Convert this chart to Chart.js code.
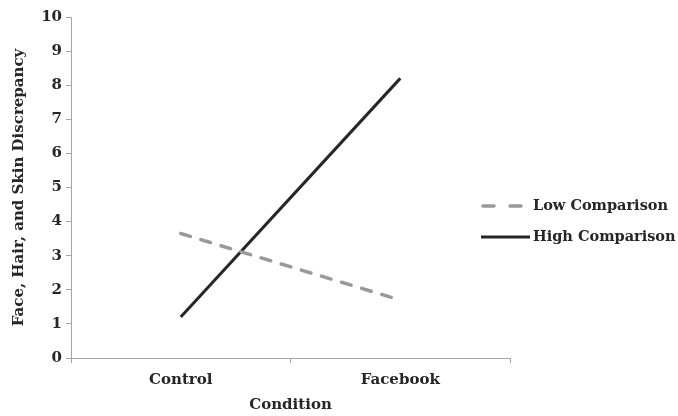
<!DOCTYPE html>
<html>
<head>
<meta charset="utf-8">
<script src="https://cdn.jsdelivr.net/npm/chart.js@4/dist/chart.umd.min.js"></script>
<style>
    html, body { margin: 0; padding: 0; background: #fff; }
    #wrap { width: 678px; height: 416px; }
</style>
</head>
<body>
<div id="wrap"><canvas id="chart"></canvas></div>
<script>
    // Data
    var conditions = ['Control', 'Facebook'];
    var lowComparison = [3.65, 1.7];
    var highComparison = [1.2, 8.2];
    var yTicks = [0, 1, 2, 3, 4, 5, 6, 7, 8, 9, 10];

    var serif = "'DejaVu Serif', serif";
    var axisGray = '#a6a6a6';

    // Legend drawn to the right, overlapping the plot's x-range like the original
    var sideLegend = {
        id: 'sideLegend',
        afterDraw: function (chart) {
            var ctx = chart.ctx;
            var x0 = 481, lineLen = 49, rowY = [206, 237];
            chart.data.datasets.forEach(function (ds, i) {
                var y = rowY[i];
                ctx.save();
                ctx.strokeStyle = ds.borderColor;
                ctx.lineWidth = ds.borderWidth;
                ctx.lineCap = ds.borderCapStyle || 'butt';
                ctx.setLineDash(ds.legendDash || []);
                ctx.beginPath();
                ctx.moveTo(x0 + (ds.legendDash ? 2 : 0), y);
                ctx.lineTo(x0 + lineLen, y);
                ctx.stroke();
                ctx.restore();

                ctx.save();
                ctx.fillStyle = '#262626';
                ctx.font = 'bold 14.5px ' + serif;
                ctx.textBaseline = 'middle';
                ctx.fillText(ds.label, x0 + lineLen + 3, y);
                ctx.restore();
            });
        }
    };

    var ctx = document.getElementById('chart').getContext('2d');
    var chart = new Chart(ctx, {
        type: 'line',
        data: {
            labels: conditions,
            datasets: [{
                label: 'Low Comparison',
                data: lowComparison,
                borderColor: '#999999',
                borderWidth: 3.5,
                borderDash: [10, 11],
                borderCapStyle: 'round',
                legendDash: [11, 16],
                pointRadius: 0,
                fill: false
            }, {
                label: 'High Comparison',
                data: highComparison,
                borderColor: '#262626',
                borderWidth: 3,
                pointRadius: 0,
                fill: false
            }]
        },
        options: {
            responsive: true,
            maintainAspectRatio: false,
            animation: false,
            layout: { padding: { top: 17, right: 168, bottom: 2, left: 4 } },
            plugins: {
                legend: { display: false },
                tooltip: { enabled: false }
            },
            scales: {
                x: {
                    offset: true,
                    grid: {
                        offset: true,
                        drawOnChartArea: false,
                        drawTicks: true,
                        tickLength: 5,
                        color: axisGray
                    },
                    border: { color: axisGray, width: 1 },
                    ticks: {
                        color: '#262626',
                        font: { family: serif, size: 15, weight: 'bold' },
                        padding: 8
                    },
                    title: {
                        display: true,
                        text: 'Condition',
                        color: '#262626',
                        font: { family: serif, size: 15, weight: 'bold' },
                        padding: { top: 2, bottom: 0 }
                    },
                    afterFit: function (scale) { scale.height = 56; }
                },
                y: {
                    min: 0,
                    max: 10,
                    afterBuildTicks: function (scale) {
                        scale.ticks = yTicks.map(function (v) { return { value: v }; });
                    },
                    grid: {
                        drawOnChartArea: false,
                        drawTicks: true,
                        tickLength: 5,
                        color: axisGray
                    },
                    border: { color: axisGray, width: 1 },
                    ticks: {
                        color: '#262626',
                        font: { family: serif, size: 15, weight: 'bold' },
                        padding: 4
                    },
                    title: {
                        display: true,
                        text: 'Face, Hair, and Skin Discrepancy',
                        color: '#262626',
                        font: { family: serif, size: 15, weight: 'bold' },
                        padding: { top: 6, bottom: 0 }
                    },
                    afterFit: function (scale) { scale.width = 67; }
                }
            }
        },
        plugins: [sideLegend]
    });
</script>
</body>
</html>
